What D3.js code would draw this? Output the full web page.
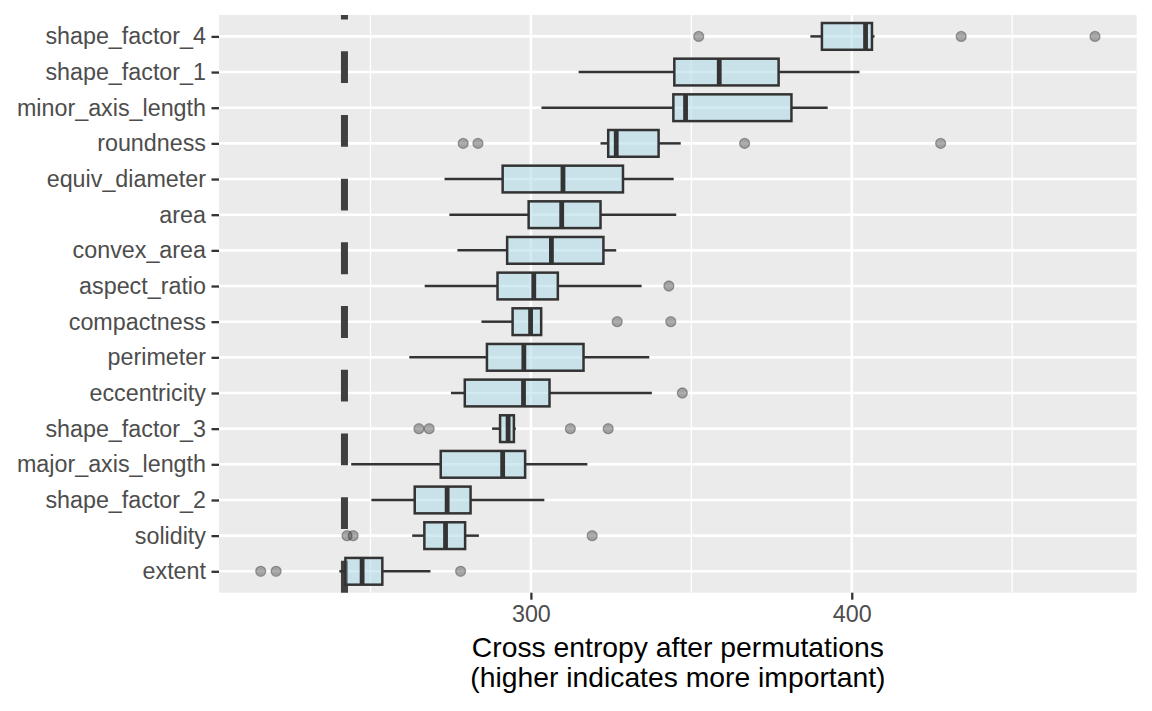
<!DOCTYPE html>
<html>
<head>
<meta charset="utf-8">
<script src="https://cdn.jsdelivr.net/npm/d3@7"></script>
<style>
  html, body { margin: 0; padding: 0; background: #fff; }
  svg { display: block; }
  text { font-family: "Liberation Sans", Arial, Helvetica, sans-serif; }
</style>
</head>
<body>
<svg id="chart" width="1152" height="711"></svg>
<script>
// ---------------- data ----------------
const features = ["shape_factor_4","shape_factor_1","minor_axis_length","roundness","equiv_diameter",
  "area","convex_area","aspect_ratio","compactness","perimeter","eccentricity","shape_factor_3",
  "major_axis_length","shape_factor_2","solidity","extent"];
const whiskerLow  = [387.1, 314.9, 303.3, 321.7, 273.1, 274.6, 277.1, 266.9, 284.6, 262.1, 275.1, 287.9, 244.0, 250.3, 263.0, 240.3];
const q1          = [390.7, 344.7, 344.4, 324.1, 291.2, 299.3, 292.6, 289.6, 294.3, 286.3, 279.4, 290.4, 271.9, 263.8, 266.8, 242.2];
const median      = [404.3, 358.7, 348.2, 326.6, 310.0, 309.6, 306.4, 300.9, 299.9, 297.8, 297.7, 292.9, 291.2, 273.9, 273.4, 247.4];
const q3          = [406.3, 377.2, 381.2, 339.8, 328.7, 321.7, 322.6, 308.4, 303.2, 316.4, 305.8, 294.7, 298.2, 281.2, 279.5, 253.7];
const whiskerHigh = [407.1, 402.4, 392.5, 346.7, 344.5, 345.3, 326.6, 334.5, 303.2, 336.9, 337.7, 295.3, 317.6, 304.2, 283.8, 268.7];
const outliers    = [[352.3, 434.1, 475.8], [], [], [278.9, 283.5, 366.6, 427.7], [], [], [], [343.0],
  [326.9, 343.6], [], [347.2], [265.1, 268.3, 312.3, 324.1], [], [], [242.7, 244.6, 319.1], [215.8, 220.6, 278.1]];
const referenceLine = 241.9;
const xBreaks = [300, 400];
const xMinorBreaks = [250, 350, 450];
const xTitleLines = ["Cross entropy after permutations", "(higher indicates more important)"];

// ---------------- layout ----------------
const panel = { left: 219, right: 1136.7, top: 15, bottom: 592.7 };
const svg = d3.select("#chart");

const allVals = whiskerLow.concat(whiskerHigh, outliers.flat(), [referenceLine]);
const lo = d3.min(allVals), hi = d3.max(allVals), span = hi - lo;
const x = d3.scaleLinear().domain([lo - 0.05 * span, hi + 0.05 * span]).range([panel.left, panel.right]);
const y = d3.scalePoint().domain(features).range([panel.top, panel.bottom]).padding(0.6);
const boxH = y.step() * 0.75;

// panel background
svg.append("rect").attr("x", panel.left).attr("y", panel.top)
  .attr("width", panel.right - panel.left).attr("height", panel.bottom - panel.top)
  .attr("fill", "#EBEBEB");

const grid = svg.append("g");
grid.selectAll("line.minor").data(xMinorBreaks).join("line")
  .attr("x1", d => x(d)).attr("x2", d => x(d))
  .attr("y1", panel.top).attr("y2", panel.bottom)
  .attr("stroke", "#fff").attr("stroke-width", 1.3);
grid.selectAll("line.majorx").data(xBreaks).join("line")
  .attr("x1", d => x(d)).attr("x2", d => x(d))
  .attr("y1", panel.top).attr("y2", panel.bottom)
  .attr("stroke", "#fff").attr("stroke-width", 2.6);
grid.selectAll("line.majory").data(features).join("line")
  .attr("x1", panel.left).attr("x2", panel.right)
  .attr("y1", d => y(d)).attr("y2", d => y(d))
  .attr("stroke", "#fff").attr("stroke-width", 2.6);

// reference dashed line (drawn bottom to top)
svg.append("line")
  .attr("x1", x(referenceLine)).attr("x2", x(referenceLine))
  .attr("y1", panel.bottom).attr("y2", panel.top)
  .attr("stroke", "#404040").attr("stroke-width", 7)
  .attr("stroke-dasharray", "31.85 31.85");

// boxplots
const rows = features.map((f, i) => ({ f, wl: whiskerLow[i], q1: q1[i], med: median[i], q3: q3[i], wh: whiskerHigh[i], out: outliers[i] }));
const g = svg.append("g");
const bx = g.selectAll("g.box").data(rows).join("g");
bx.append("line").attr("x1", d => x(d.wl)).attr("x2", d => x(d.q1))
  .attr("y1", d => y(d.f)).attr("y2", d => y(d.f))
  .attr("stroke", "#333").attr("stroke-width", 2.5);
bx.append("line").attr("x1", d => x(d.q3)).attr("x2", d => x(d.wh))
  .attr("y1", d => y(d.f)).attr("y2", d => y(d.f))
  .attr("stroke", "#333").attr("stroke-width", 2.5);
bx.append("rect").attr("x", d => x(d.q1)).attr("width", d => x(d.q3) - x(d.q1))
  .attr("y", d => y(d.f) - boxH / 2).attr("height", boxH)
  .attr("fill", "rgba(173,216,230,0.55)").attr("stroke", "#333").attr("stroke-width", 2.5);
bx.append("line").attr("x1", d => x(d.med)).attr("x2", d => x(d.med))
  .attr("y1", d => y(d.f) - boxH / 2).attr("y2", d => y(d.f) + boxH / 2)
  .attr("stroke", "#333").attr("stroke-width", 4.8);
bx.selectAll("circle").data(d => d.out.map(v => ({ v, f: d.f }))).join("circle")
  .attr("cx", d => x(d.v)).attr("cy", d => y(d.f)).attr("r", 5)
  .attr("fill", "rgba(51,51,51,0.4)").attr("stroke", "rgba(51,51,51,0.4)").attr("stroke-width", 1.3);

// axes
const xAxis = svg.append("g").attr("transform", `translate(0,${panel.bottom})`)
  .call(d3.axisBottom(x).tickValues(xBreaks).tickSize(7).tickPadding(6.1).tickFormat(d3.format("d")));
const yAxis = svg.append("g").attr("transform", `translate(${panel.left},0)`)
  .call(d3.axisLeft(y).tickSize(7.5).tickPadding(5.5));
[xAxis, yAxis].forEach(a => {
  a.select(".domain").remove();
  a.selectAll(".tick line").attr("stroke", "#333").attr("stroke-width", 2.3);
  a.selectAll(".tick text").attr("fill", "#4D4D4D").style("font-size", "23.3px")
    .style("font-family", '"Liberation Sans", Arial, sans-serif');
});

// x title
const cx = (panel.left + panel.right) / 2;
svg.append("text").attr("x", cx).attr("y", 656.7).attr("text-anchor", "middle")
  .style("font-size", "28.3px").attr("fill", "#000").text(xTitleLines[0]);
svg.append("text").attr("x", cx).attr("y", 686.7).attr("text-anchor", "middle")
  .style("font-size", "28.3px").attr("fill", "#000").text(xTitleLines[1]);
</script>
</body>
</html>
